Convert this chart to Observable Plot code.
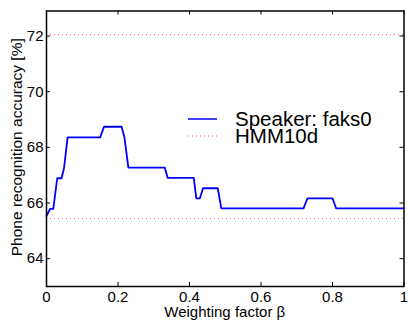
<!DOCTYPE html>
<html>
<head>
<meta charset="utf-8">
<script src="https://cdn.jsdelivr.net/npm/d3@7"></script>
<script src="https://cdn.jsdelivr.net/npm/@observablehq/plot@0.6"></script>
<style>
  html, body { margin: 0; padding: 0; background: #fff; }
  #chart { width: 408px; height: 321px; }
</style>
</head>
<body>
<div id="chart"></div>
<script>
// Weighting factor β
const beta = [0, 0.01, 0.019, 0.03, 0.042, 0.049, 0.059, 0.15, 0.161, 0.21, 0.218, 0.229, 0.331, 0.339, 0.412, 0.419, 0.429, 0.438, 0.479, 0.489, 0.719, 0.73, 0.80, 0.81, 1];
// Speaker: faks0 accuracy [%]
const accuracy = [65.54, 65.79, 65.79, 66.89, 66.89, 67.25, 68.36, 68.36, 68.74, 68.74, 68.36, 67.27, 67.27, 66.9, 66.9, 66.17, 66.17, 66.53, 66.53, 65.81, 65.81, 66.17, 66.17, 65.81, 65.81];
// HMM10d reference levels
const hmmLevels = [72.05, 65.45];
const xTicks = [0, 0.2, 0.4, 0.6, 0.8, 1];
const yTicks = [64, 66, 68, 70, 72];
const seriesLabels = ["Speaker: faks0", "HMM10d"];

const data = beta.map((b, i) => ({beta: b, acc: accuracy[i]}));

const W = 408, H = 321;
const mL = 46, mR = 4.5, mT = 10.5, mB = 35;
const innerH = H - mT - mB, innerW = W - mL - mR;
const font = "'Liberation Sans', Arial, Helvetica, sans-serif";

const plot = Plot.plot({
  width: W, height: H,
  marginLeft: mL, marginRight: mR, marginTop: mT, marginBottom: mB,
  style: {fontFamily: font, background: "#fff", color: "#000"},
  x: {domain: [0, 1]},
  y: {domain: [63, 72.9]},
  marks: [
    Plot.ruleY(hmmLevels, {stroke: "#ff5050", strokeWidth: 1, strokeDasharray: "1,3"}),
    Plot.line(data, {x: "beta", y: "acc", stroke: "#0000ff", strokeWidth: 1.8}),
    // inward ticks
    Plot.tickX(xTicks, {x: d => d, insetTop: innerH - 4, stroke: "#000"}),
    Plot.tickX(xTicks, {x: d => d, insetBottom: innerH - 4, stroke: "#000"}),
    Plot.tickY(yTicks, {y: d => d, insetRight: innerW - 4, stroke: "#000"}),
    Plot.tickY(yTicks, {y: d => d, insetLeft: innerW - 4, stroke: "#000"}),
    Plot.axisX(xTicks, {tickSize: 0, tickPadding: 5, fontSize: 15, tickFormat: d => String(d), label: null}),
    Plot.axisY(yTicks, {tickSize: 0, tickPadding: 3, fontSize: 15, label: null}),
    Plot.frame({stroke: "#000", strokeWidth: 1.5})
  ]
});

document.getElementById("chart").appendChild(plot);

const svg = d3.select(plot);
svg.selectAll("text").attr("fill", "#000");

// axis titles
svg.append("text")
  .attr("x", mL + innerW / 2).attr("y", 317)
  .attr("text-anchor", "middle")
  .style("font-family", font).style("font-size", "15px").attr("fill", "#000")
  .text("Weighting factor β");
svg.append("text")
  .attr("transform", `translate(21.5,${mT + innerH / 2 - 1}) rotate(-90)`)
  .attr("text-anchor", "middle")
  .style("font-family", font).style("font-size", "15.5px").attr("fill", "#000")
  .text("Phone recognition accuracy [%]");

// legend
const leg = svg.append("g").attr("text-anchor", "start");
leg.append("line").attr("x1", 188).attr("x2", 217).attr("y1", 119).attr("y2", 119)
  .attr("stroke", "#0000ff").attr("stroke-width", 1.5);
leg.append("line").attr("x1", 188).attr("x2", 217).attr("y1", 136).attr("y2", 136)
  .attr("stroke", "#ff5050").attr("stroke-width", 1).attr("stroke-dasharray", "1,3");
leg.append("text").attr("x", 235).attr("y", 126).attr("text-anchor", "start")
  .style("font-family", font).style("font-size", "20.5px").attr("fill", "#000")
  .text(seriesLabels[0]);
leg.append("text").attr("x", 235).attr("y", 142.7).attr("text-anchor", "start")
  .style("font-family", font).style("font-size", "20.5px").attr("fill", "#000")
  .text(seriesLabels[1]);
</script>
</body>
</html>
